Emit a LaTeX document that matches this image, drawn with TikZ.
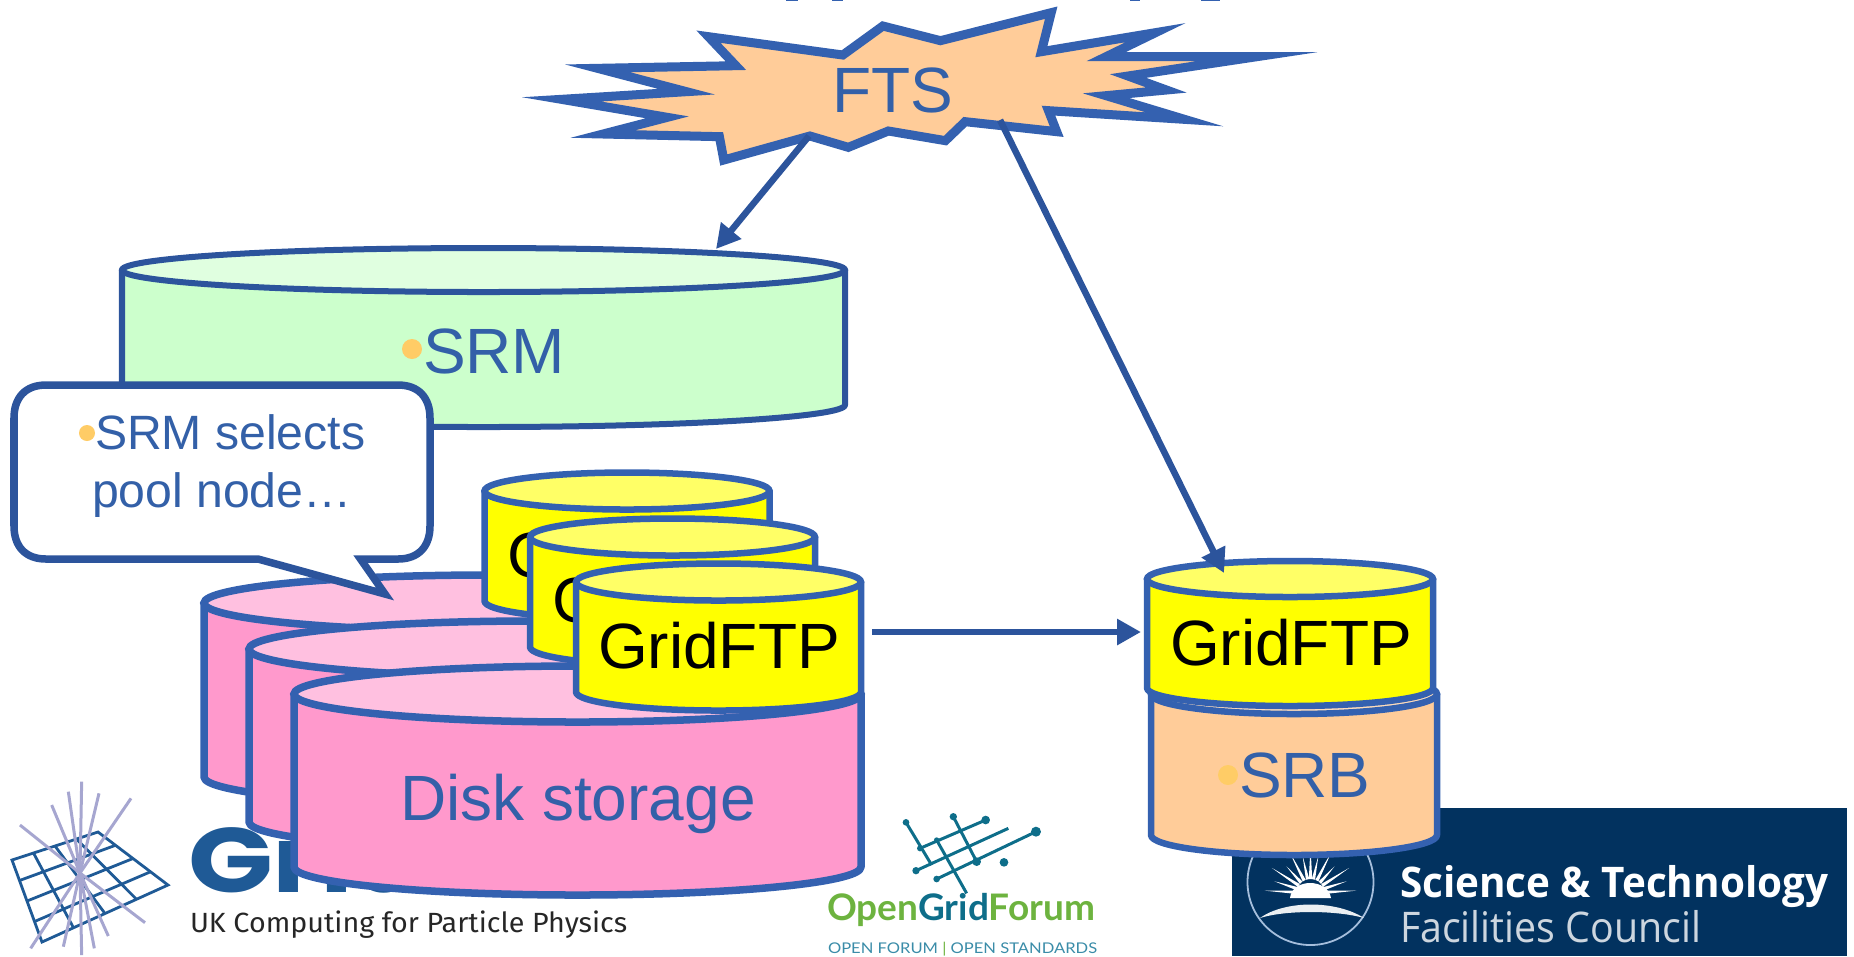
\documentclass[tikz,border=0pt]{standalone}
\usepackage{fontspec}
\usepackage{graphicx}
\setmainfont{Liberation Sans}
\newfontfamily\opensans{Open Sans}
\newfontfamily\firasans{Fira Sans}
\newfontfamily\latofont{Lato}
\newfontfamily\poppinsfont{Poppins}
\usetikzlibrary{arrows.meta}
\definecolor{lineblue}{HTML}{3461B0}
\definecolor{darkblue}{HTML}{2C549C}
\definecolor{labelblue}{HTML}{3360A8}
\definecolor{bulletc}{HTML}{FFCC66}
\definecolor{pinkside}{HTML}{FF99CC}
\definecolor{pinktop}{HTML}{FFC0E0}
\definecolor{yelside}{HTML}{FFFF00}
\definecolor{yeltop}{HTML}{FFFF66}
\definecolor{peach}{HTML}{FFCC99}
\definecolor{peachtop}{HTML}{FFDDBB}
\definecolor{greenside}{HTML}{CCFFCC}
\definecolor{greentop}{HTML}{E0FFE0}
\definecolor{stfcblue}{HTML}{02325F}
\definecolor{stfcline}{HTML}{A5BEDC}
\definecolor{gridblue}{HTML}{1F5A96}
\definecolor{rayc}{HTML}{A6A6D0}
\definecolor{ogfteal}{HTML}{0E6E8A}
\definecolor{ogfgreen}{HTML}{6DB33F}
\definecolor{ogfsub}{HTML}{3A8CA8}
\def\px{0.2845pt}
\tikzset{
  txt/.style={inner sep=0pt,outer sep=0pt,anchor=base west},
  bigtxt/.style={txt,font=\fontsize{18.2}{20}\selectfont,text=labelblue},
  ftptxt/.style={txt,font=\fontsize{18.2}{20}\selectfont,text=black},
  calltxt/.style={txt,font=\fontsize{13.7}{15}\selectfont,text=labelblue},
  conn/.style={draw=darkblue,line width=6.5*\px,-{Triangle[length=24*\px,width=25*\px]}},
  bull/.style={fill=bulletc},
  pinkcan/.style={draw=lineblue,line width=7.5*\px},
  yelcan/.style={draw=lineblue,line width=6.5*\px},
  greencan/.style={draw=darkblue,line width=6*\px},
  peachcan/.style={draw=lineblue,line width=6.5*\px},
}
% style cx ytop ycorner rx ry sidefill topfill
\newcommand\can[8][]{%
  \pgfmathsetmacro\xl{#3-#5}\pgfmathsetmacro\xr{#3+#5}%
  \pgfmathsetmacro\kx{.5523*#5}\pgfmathsetmacro\ky{.5523*#6}%
  \path[#2,fill=#7,line join=round] (\xl,#8) -- (\xl,#4)
    .. controls (\xl,#4+\ky) and (#3-\kx,#4+#6) .. (#3,#4+#6)
    .. controls (#3+\kx,#4+#6) and (\xr,#4+\ky) .. (\xr,#4)
    -- (\xr,#8) -- cycle;
}
\newcommand\cantop[6]{\path[#1,fill=#6] (#2,#3) ellipse [x radius=#4,y radius=#5];}
\begin{document}
\begin{tikzpicture}[x=0.01cm,y=-0.01cm]
\useasboundingbox (0,0) rectangle (1854,956);
\clip (0,0) rectangle (1854,956);
% clipped title remains
\foreach \a/\b in {786/798,832/843,1130/1140,1201/1220}
  \fill[lineblue] (\a,0) rectangle (\b,1);
% ---------- STFC logo
\fill[stfcblue] (1232,808) rectangle (1847,956);
\draw[stfcline,line width=1.8*\px] (1310.5,882) ellipse [x radius=63,y radius=63];
\foreach \ang/\len in {3/46,18/38,33/46,48/36,63/46,78/38,90/46,102/38,117/46,132/36,147/46,162/38,177/46}
  \fill[white] ({1310.5+14*cos(\ang+7)},{893-14*sin(\ang+7)}) -- ({1310.5+\len*cos(\ang)},{893-\len*sin(\ang)}) -- ({1310.5+14*cos(\ang-7)},{893-14*sin(\ang-7)}) -- cycle;
\fill[white] (1290,898) .. controls (1292,878) and (1328,878) .. (1331,898) -- cycle;
\fill[white!92!stfcblue] (1260,918) .. controls (1285,900) and (1336,900) .. (1364,918) .. controls (1336,910) and (1285,910) .. (1260,918) -- cycle;
\node[txt,text=white] (stfcA) at (1400,897) {\resizebox{4.28cm}{\height}{\opensans\bfseries\fontsize{12}{14}\selectfont Science \& Technology}};
\node[txt,text=white!80!stfcblue] (stfcB) at (1400,942) {\resizebox{3.01cm}{\height}{\opensans\fontsize{12}{14}\selectfont Facilities Council}};
% ---------- GridPP logo
\begin{scope}[gridblue,line width=2.8*\px,line join=miter]
  \draw (12,860) -- (98,832) -- (168,885) -- (42,942) -- cycle;
  \foreach \t in {.25,.5,.75}
    \draw ({12+\t*(98-12)},{860+\t*(832-860)}) -- ({42+\t*(168-42)},{942+\t*(885-942)});
  \foreach \t in {.25,.5,.75}
    \draw ({12+\t*(42-12)},{860+\t*(942-860)}) -- ({98+\t*(168-98)},{832+\t*(885-832)});
\end{scope}
\foreach \x/\y in {245/5,205/35,297/40,155/75,393/55,60/135,435/428,325/468,283/505,245/525,190/500,92/505}
  \draw[rayc,line width=3*\px] (80,873) -- ({\x/3},{780+\y/3});
\node[txt,text=gridblue] (gpp) at (188,892) {\resizebox{3.8cm}{\height}{\poppinsfont\bfseries\fontsize{26}{28}\selectfont GridPP}};
\node[txt,text=black!85] (gppsub) at (190,932) {\resizebox{4.37cm}{\height}{\firasans\fontsize{7.9}{9}\selectfont UK Computing for Particle Physics}};
% ---------- OGF logo
\begin{scope}[shift={(820,810)},scale=.3333,ogfteal,line width=3*\px]
  \draw (258,37) -- (335,165);
  \draw (350,90) -- (440,250);
  \draw (400,20) -- (470,155);
  \draw (288,182) -- (565,55);
  \draw (350,207) -- (648,65);
  \draw (300,115) -- (497,30);
  \foreach \x/\y/\r in {258/37/10,400/20/11,497/30/13,648/65/15,552/157/13,470/155/13,288/182/11,350/207/10,300/115/9,350/90/8}
    \fill (\x,\y) circle [radius=\r];
\end{scope}
\node[txt] (ogf) at (827,920) {\resizebox{2.68cm}{\height}{\latofont\bfseries\fontsize{10.4}{12}\selectfont\textcolor{ogfgreen}{Open}\textcolor{ogfteal}{Grid}\textcolor{ogfgreen}{Forum}}};
\node[txt,text=ogfsub] (ogfsub) at (828,953) {\resizebox{2.69cm}{\height}{\latofont\fontsize{4.2}{5}\selectfont OPEN FORUM \textcolor{ogfgreen}{|} OPEN STANDARDS}};
% ---------- SRM
\can{greencan}{483.5}{405}{361.5}{22}{greenside}{270}
\cantop{greencan}{483.5}{270}{361.5}{22}{greentop}
\fill[bull] (412,349) ellipse [x radius=10,y radius=10];
\node[bigtxt] (srm) at (423,373) {SRM};
% ---------- disk pool, back to front
\can{pinkcan}{487.5}{777}{283.5}{28}{pinkside}{603}
\cantop{pinkcan}{487.5}{603}{283.5}{28}{pinktop}
\can{yelcan}{627}{601}{142.5}{18.5}{yelside}{491}
\cantop{yelcan}{627}{491}{142.5}{18.5}{yeltop}
\node[ftptxt] (ftpA) at (507,577) {GridFTP};
\can{pinkcan}{532.5}{822}{283.5}{28}{pinkside}{649}
\cantop{pinkcan}{532.5}{649}{283.5}{28}{pinktop}
\can{yelcan}{672.5}{647}{142.5}{18.5}{yelside}{537}
\cantop{yelcan}{672.5}{537}{142.5}{18.5}{yeltop}
\node[ftptxt] (ftpB) at (552.5,622.5) {GridFTP};
\can{pinkcan}{577.5}{867}{283.5}{28}{pinkside}{694}
\cantop{pinkcan}{577.5}{694}{283.5}{28}{pinktop}
\node[bigtxt] (disk) at (400,820) {Disk storage};
\can{yelcan}{718.5}{692}{142.5}{18.5}{yelside}{582}
\cantop{yelcan}{718.5}{582}{142.5}{18.5}{yeltop}
\node[ftptxt] (ftpC) at (598,668) {GridFTP};
% ---------- SRB + GridFTP
\can{peachcan}{1294}{835}{143}{20}{peach}{694}
\cantop{peachcan}{1294}{694}{143}{20}{peachtop}
\fill[bull] (1228,775) ellipse [x radius=10,y radius=10];
\node[bigtxt] (srb) at (1239,797) {SRB};
\can{yelcan}{1290}{688}{143}{18}{yelside}{579}
\cantop{yelcan}{1290}{579}{143}{18}{yeltop}
\node[ftptxt] (ftpD) at (1170,665) {GridFTP};
% ---------- callout
\draw[draw=darkblue,fill=white,line width=7.5*\px,miter limit=20]
  (46,385) -- (398,385) .. controls (419,385) and (430,398) .. (430,418)
  -- (430,526) .. controls (430,546) and (419,559) .. (398,559)
  -- (360.5,559) -- (385,594) -- (258,559) -- (46,559)
  .. controls (25,559) and (14,546) .. (14,526) -- (14,418)
  .. controls (14,398) and (25,385) .. (46,385) -- cycle;
\fill[bull] (87,433) ellipse [x radius=8,y radius=8];
\node[calltxt] (callA) at (95,449) {SRM selects};
\node[calltxt] (callB) at (92,507) {pool node…};
% ---------- FTS star
\begin{scope}[shift={(500,0)},xscale=.5485,yscale=.3333]
\path[draw=lineblue,fill=peach,line width=9*\px,miter limit=25,line join=miter]
 (112,298) -- (340,275) -- (178,205) -- (430,197) -- (380,110) -- (625,165)
 -- (698,78) -- (803,122) -- (1005,38) -- (987,155) -- (1195,98) -- (1105,170)
 -- (1380,170) -- (1145,228) -- (1215,270) -- (1105,287) -- (1248,358) -- (1000,332)
 -- (1015,395) -- (848,365) -- (812,422) -- (708,393) -- (635,442) -- (565,408)
 -- (408,480) -- (400,410) -- (188,402) -- (305,352) -- cycle;
\end{scope}
\node[bigtxt] (fts) at (832,112) {FTS};
% ---------- connectors
\coordinate (ftsL) at (809,136);
\coordinate (ftsR) at (1000,120);
\coordinate (srmTop) at (716,249);
\coordinate (ftpTop) at (1224,573);
\coordinate (poolOut) at (872,632);
\coordinate (ftpIn) at (1141,632);
\draw[conn] (ftsL) -- (srmTop);
\draw[conn] (ftsR) -- (ftpTop);
\draw[conn] (poolOut) -- (ftpIn);
\end{tikzpicture}
\end{document}
